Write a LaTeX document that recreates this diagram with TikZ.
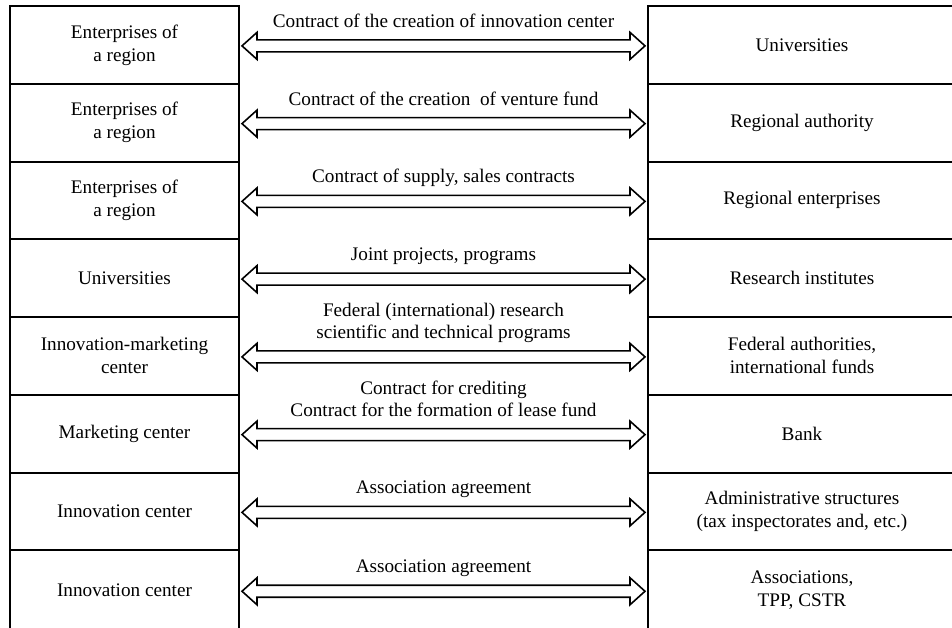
\documentclass[tikz,border=0pt]{standalone}
\usepackage{fontspec}
\setmainfont{Liberation Serif}
\usetikzlibrary{calc}

\tikzset{
  party/.style={draw, line width=1pt, inner sep=0pt, outer sep=0pt,
    minimum height=38.875pt, align=center,
    font=\fontsize{9.6}{11.5}\selectfont},
  left box/.style={party, minimum width=114.5pt},
  right box/.style={party, minimum width=154pt},
  last row/.style={minimum height=40pt},
  deal/.style={anchor=south, inner sep=0pt, text depth=0pt, align=center,
    font=\fontsize{9.6}{11}\selectfont},
  twoarrow/.style={line width=0.8pt, line join=miter}
}
\newcommand{\twoway}[2]{%
  \draw[twoarrow] (#1) -- ++(15,-13.5) -- ++(0,7.5) -- ($(#2)+(-15,-6)$)
    -- ++(0,-7.5) -- (#2) -- ++(-15,13.5) -- ++(0,-7.5)
    -- ($(#1)+(15,6)$) -- ++(0,7.5) -- cycle;}

\begin{document}
\begin{tikzpicture}[x=0.5pt,y=-0.5pt]
 \useasboundingbox (0,0) rectangle (952,627);
% left column
 \node[left box] (l1) at (124.5,44.875) {Enterprises of\\a region};
 \node[left box] (l2) at (124.5,122.625) {Enterprises of\\a region};
 \node[left box] (l3) at (124.5,200.375) {Enterprises of\\a region};
 \node[left box] (l4) at (124.5,278.125) {Universities};
 \node[left box] (l5) at (124.5,355.875) {Innovation-marketing\\center};
 \node[left box] (l6) at (124.5,433.625) {Marketing center};
 \node[left box] (l7) at (124.5,511.375) {Innovation center};
 \node[left box, last row] (l8) at (124.5,590.25) {Innovation center};
% right column
 \node[right box] (r1) at (802,44.875) {Universities};
 \node[right box] (r2) at (802,122.625) {Regional authority};
 \node[right box] (r3) at (802,200.375) {Regional enterprises};
 \node[right box] (r4) at (802,278.125) {Research institutes};
 \node[right box] (r5) at (802,355.875) {Federal authorities,\\international funds};
 \node[right box] (r6) at (802,433.625) {Bank};
 \node[right box] (r7) at (802,511.375) {Administrative structures\\(tax inspectorates and, etc.)};
 \node[right box, last row] (r8) at (802,590.25) {Associations,\\TPP, CSTR};
% agreements
 \foreach \i/\deal in {1/{Contract of the creation of innovation center},
   2/{Contract of the creation\ \ of venture fund},
   3/{Contract of supply, sales contracts},
   4/{Joint projects, programs},
   5/{Federal (international) research\\scientific and technical programs},
   6/{Contract for crediting\\Contract for the formation of lease fund},
   7/{Association agreement},
   8/{Association agreement}} {
   \coordinate (a\i) at ($(l\i.east)+(3,1)$);
   \coordinate (b\i) at ($(r\i.west)+(-3,1)$);
   \twoway{a\i}{b\i}
   \node[deal] (d\i) at ($(a\i)!0.5!(b\i)+(0,-18)$) {\deal};
 }
\end{tikzpicture}
\end{document}
